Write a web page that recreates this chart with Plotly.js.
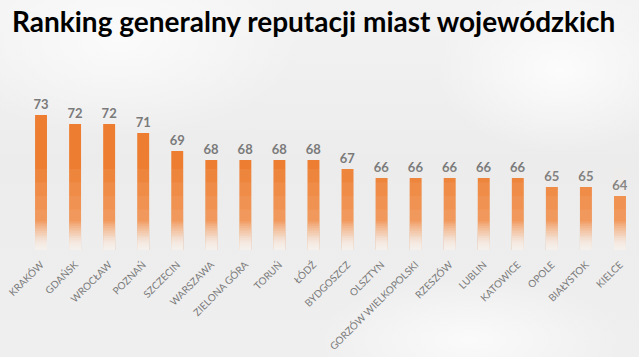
<!DOCTYPE html>
<html>
<head>
<meta charset="utf-8">
<script src="https://cdn.plot.ly/plotly-3.0.1.min.js"></script>
<style>
  html, body { margin: 0; padding: 0; }
  body {
    width: 639px; height: 357px; overflow: hidden;
    background:
      radial-gradient(ellipse 180px 120px at 560px 70px, rgba(255,255,255,0.8), rgba(255,255,255,0) 70%),
      radial-gradient(ellipse 220px 90px at 470px 340px, rgba(255,255,255,0.7), rgba(255,255,255,0) 70%),
      radial-gradient(ellipse 260px 140px at 120px 40px, rgba(255,255,255,0.7), rgba(255,255,255,0) 70%),
      linear-gradient(180deg, #f3f3f3 0%, #ececec 45%, #efefef 100%);
  }
  #chart { width: 639px; height: 357px; }
</style>
</head>
<body>
<div id="chart"></div>
<script>
const cities = ["KRAKÓW","GDAŃSK","WROCŁAW","POZNAŃ","SZCZECIN","WARSZAWA","ZIELONA GÓRA","TORUŃ","ŁÓDŹ","BYDGOSZCZ","OLSZTYN","GORZÓW WIELKOPOLSKI","RZESZÓW","LUBLIN","KATOWICE","OPOLE","BIAŁYSTOK","KIELCE"];
const scores = [73,72,72,71,69,68,68,68,68,67,66,66,66,66,66,65,65,64];
const titleText = "Ranking generalny reputacji miast wojewódzkich";

const axisMin = 58;
const trace = {
  type: "bar",
  x: cities,
  y: scores,
  width: 0.35,
  marker: { color: "#ed7d31", line: { width: 0 } },
  text: scores.map(String),
  textposition: "outside",
  constraintext: "none",
  cliponaxis: false,
  textfont: { family: "Lato, sans-serif", size: 13, color: "#7a7a7a", weight: 700 },
  hoverinfo: "skip"
};

// Fade overlay: semi-transparent light bars drawn over the lower part of every bar
const fadeSteps = 12;
const fadeTraces = [];
for (let k = 0; k < fadeSteps; k++) {
  const top = axisMin + 3.2 * (1 - k / fadeSteps);
  fadeTraces.push({
    type: "bar",
    x: cities,
    y: cities.map(() => top - axisMin),
    base: axisMin,
    width: 0.35,
    marker: { color: "rgba(246,246,246," + (0.09 + 0.02 * k).toFixed(3) + ")", line: { width: 0 } },
    hoverinfo: "skip",
    showlegend: false
  });
}
// gentle lightening towards the bottom half
const softTraces = [];
for (let k = 0; k < 6; k++) {
  const top = axisMin + 9 * (1 - k / 6);
  softTraces.push({
    type: "bar",
    x: cities,
    y: cities.map(() => top - axisMin),
    base: axisMin,
    width: 0.35,
    marker: { color: "rgba(255,240,228,0.07)", line: { width: 0 } },
    hoverinfo: "skip",
    showlegend: false
  });
}

const layout = {
  width: 639, height: 357,
  paper_bgcolor: "rgba(0,0,0,0)",
  plot_bgcolor: "rgba(0,0,0,0)",
  margin: { l: 24, r: 2, t: 52, b: 107 },
  showlegend: false,
  barmode: "overlay",
  title: {
    text: "<b>" + titleText + "</b>",
    font: { family: "Lato, sans-serif", size: 28, color: "#000000" },
    x: 12/639, xanchor: "left", xref: "container",
    y: 1 - 22/357, yanchor: "middle", yref: "container"
  },
  xaxis: {
    type: "category",
    tickangle: -45,
    showline: false, showgrid: false, zeroline: false, ticks: "",
    tickfont: { family: "Lato, sans-serif", size: 10, color: "#7a7a7a" },
    ticklabelstandoff: 6
  },
  yaxis: {
    range: [axisMin, 80],
    visible: false, showgrid: false, zeroline: false
  }
};

Plotly.newPlot("chart", [trace].concat(softTraces, fadeTraces), layout, { staticPlot: true, displayModeBar: false });
</script>
</body>
</html>
